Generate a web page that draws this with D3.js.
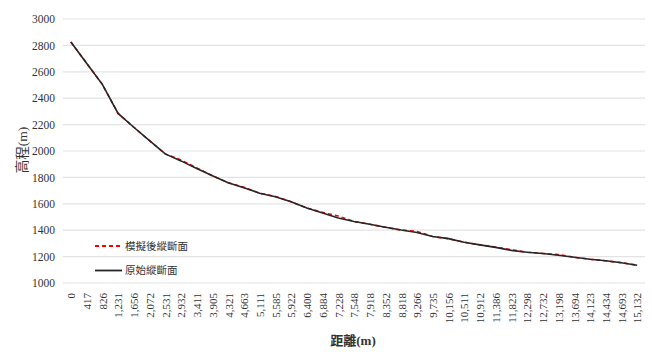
<!DOCTYPE html>
<html>
<head>
<meta charset="utf-8">
<script src="https://cdn.jsdelivr.net/npm/d3@7/dist/d3.min.js"></script>
<style>
  html, body { margin: 0; padding: 0; background: #fff; }
  svg { display: block; }
</style>
</head>
<body>
<svg id="chart" width="652" height="352"></svg>
<script>
// ---- data ----
const distances = [0, 417, 826, 1231, 1656, 2072, 2531, 2932, 3411, 3905, 4321, 4663, 5111, 5585, 5922, 6400, 6884, 7228, 7548, 7918, 8352, 8818, 9266, 9735, 10156, 10511, 10912, 11386, 11823, 12298, 12732, 13198, 13694, 14123, 14434, 14693, 15132];
const originalElev = [2826, 2665, 2505, 2285, 2180, 2078, 1978, 1925, 1868, 1812, 1760, 1722, 1680, 1654, 1616, 1568, 1530, 1492, 1466, 1445, 1422, 1401, 1383, 1352, 1336, 1309, 1289, 1270, 1247, 1233, 1224, 1210, 1195, 1180, 1168, 1154, 1135];
const simulatedElev = [2826, 2665, 2505, 2285, 2180, 2078, 1978, 1932, 1872, 1812, 1760, 1725, 1680, 1656, 1616, 1568, 1535, 1507, 1466, 1445, 1422, 1401, 1391, 1352, 1336, 1309, 1289, 1272, 1252, 1233, 1224, 1215, 1195, 1180, 1168, 1154, 1135];
const yTicks = [1000, 1200, 1400, 1600, 1800, 2000, 2200, 2400, 2600, 2800, 3000];
const seriesNames = ["模擬後縱斷面", "原始縱斷面"];
const xTitle = "距離(m)";
const yTitle = "高程(m)";

// ---- layout ----
const svg = d3.select("#chart");
const plot = { left: 63, right: 645, top: 19, bottom: 283 };
const serif = "'Liberation Serif', 'Times New Roman', serif";
const cjk = "'Liberation Serif', 'Noto Sans CJK TC', serif";

const x = d3.scalePoint()
  .domain(distances.map((d, i) => i))
  .range([plot.left, plot.right])
  .padding(0.5);
const y = d3.scaleLinear().domain([1000, 3000]).range([plot.bottom, plot.top]);

// gridlines
svg.append("g")
  .selectAll("line")
  .data(yTicks)
  .join("line")
  .attr("x1", plot.left).attr("x2", plot.right)
  .attr("y1", d => y(d)).attr("y2", d => y(d))
  .attr("stroke", "#e3e3e3").attr("stroke-width", 1.2);

// y axis labels
const yAxis = d3.axisLeft(y).tickValues(yTicks).tickSize(0).tickPadding(8).tickFormat(d3.format("d"));
const gy = svg.append("g").attr("transform", `translate(${plot.left},0)`).call(yAxis);
gy.select(".domain").remove();
gy.selectAll("text").attr("font-family", serif).attr("font-size", 11.5).attr("fill", "#333");

// x axis labels
const fmt = d3.format(",");
const xAxis = d3.axisBottom(x).tickSize(0).tickPadding(0).tickFormat(i => fmt(distances[i]));
const gx = svg.append("g").attr("transform", `translate(0,${plot.bottom})`).call(xAxis);
gx.select(".domain").remove();
gx.selectAll("text")
  .attr("font-family", serif).attr("font-size", 11).attr("fill", "#333")
  .attr("text-anchor", "end")
  .attr("dy", "0.35em")
  .attr("transform", "translate(0,10) rotate(-90)")
  .attr("x", 0).attr("y", 0);

// lines
const line = vals => d3.line().x((d, i) => x(i)).y(d => y(d))(vals);
svg.append("path")
  .attr("d", line(simulatedElev))
  .attr("fill", "none").attr("stroke", "#ff0000").attr("stroke-width", 1.6)
  .attr("stroke-dasharray", "4,3");
svg.append("path")
  .attr("d", line(originalElev))
  .attr("fill", "none").attr("stroke", "#262626").attr("stroke-width", 1.6);

// legend
const legend = svg.append("g");
const legItems = [
  { name: seriesNames[0], color: "#ff0000", dash: "4,3", y: 246 },
  { name: seriesNames[1], color: "#262626", dash: null, y: 270.5 }
];
legItems.forEach(it => {
  legend.append("line")
    .attr("x1", 95).attr("x2", 122).attr("y1", it.y).attr("y2", it.y)
    .attr("stroke", it.color).attr("stroke-width", 1.8)
    .attr("stroke-dasharray", it.dash);
  legend.append("text")
    .attr("x", 125).attr("y", it.y).attr("dy", "0.35em")
    .attr("font-family", cjk).attr("font-size", 10.5).attr("fill", "#333")
    .text(it.name);
});

// axis titles
svg.append("text")
  .attr("x", 353).attr("y", 340).attr("dy", "0.35em")
  .attr("text-anchor", "middle")
  .attr("font-family", cjk).attr("font-size", 13).attr("font-weight", "bold").attr("fill", "#333")
  .text(xTitle);
svg.append("text")
  .attr("transform", "translate(22,150) rotate(-90)")
  .attr("text-anchor", "middle").attr("dy", "0.35em")
  .attr("font-family", cjk).attr("font-size", 13.5).attr("fill", "#333")
  .text(yTitle);
</script>
</body>
</html>
